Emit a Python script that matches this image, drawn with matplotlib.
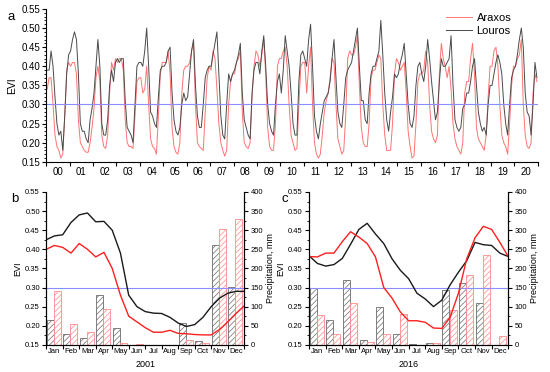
import numpy as np
import matplotlib
matplotlib.use("Agg")
import matplotlib.pyplot as plt
from matplotlib.ticker import MultipleLocator, FixedLocator, NullFormatter, FormatStrFormatter

plt.rcParams['font.family'] = ['Liberation Sans', 'DejaVu Sans']
plt.rcParams['hatch.linewidth'] = 0.5

# ---- panel a: monthly EVI 2000-2020 ----
years = list(range(2000, 2021))
year_labels = ['%02d' % (y % 100) for y in years]

louros_evi = [
    0.39, 0.39, 0.44, 0.40, 0.32, 0.25, 0.22, 0.23, 0.18, 0.27, 0.38, 0.43,  # 2000
    0.44, 0.47, 0.49, 0.47, 0.38, 0.25, 0.23, 0.23, 0.21, 0.20, 0.26, 0.29,  # 2001
    0.33, 0.40, 0.47, 0.40, 0.25, 0.22, 0.22, 0.26, 0.35, 0.39, 0.36, 0.41,  # 2002
    0.42, 0.41, 0.42, 0.42, 0.31, 0.24, 0.23, 0.22, 0.20, 0.30, 0.40, 0.41,  # 2003
    0.41, 0.40, 0.44, 0.50, 0.40, 0.28, 0.27, 0.25, 0.24, 0.32, 0.39, 0.40,  # 2004
    0.40, 0.41, 0.44, 0.45, 0.33, 0.26, 0.23, 0.22, 0.24, 0.30, 0.33, 0.31,  # 2005
    0.32, 0.38, 0.44, 0.47, 0.35, 0.27, 0.24, 0.24, 0.30, 0.37, 0.39, 0.40,  # 2006
    0.40, 0.43, 0.46, 0.49, 0.38, 0.27, 0.22, 0.21, 0.30, 0.38, 0.36, 0.38,  # 2007
    0.39, 0.41, 0.43, 0.46, 0.33, 0.26, 0.24, 0.22, 0.21, 0.33, 0.39, 0.41,  # 2008
    0.41, 0.38, 0.44, 0.48, 0.40, 0.30, 0.25, 0.23, 0.22, 0.30, 0.36, 0.38,  # 2009
    0.33, 0.39, 0.48, 0.44, 0.40, 0.33, 0.25, 0.22, 0.22, 0.36, 0.43, 0.44,  # 2010
    0.42, 0.40, 0.47, 0.51, 0.40, 0.27, 0.23, 0.21, 0.25, 0.28, 0.31, 0.32,  # 2011
    0.33, 0.36, 0.42, 0.47, 0.37, 0.28, 0.25, 0.24, 0.30, 0.37, 0.39, 0.40,  # 2012
    0.41, 0.44, 0.47, 0.50, 0.40, 0.31, 0.31, 0.26, 0.25, 0.33, 0.38, 0.40,  # 2013
    0.40, 0.42, 0.44, 0.52, 0.43, 0.33, 0.26, 0.23, 0.28, 0.32, 0.38, 0.37,  # 2014
    0.38, 0.41, 0.43, 0.46, 0.38, 0.30, 0.25, 0.24, 0.27, 0.35, 0.40, 0.41,  # 2015
    0.38, 0.36, 0.40, 0.47, 0.42, 0.36, 0.31, 0.26, 0.28, 0.36, 0.42, 0.40,  # 2016
    0.40, 0.41, 0.42, 0.48, 0.35, 0.26, 0.24, 0.23, 0.24, 0.29, 0.30, 0.33,  # 2017
    0.33, 0.36, 0.40, 0.42, 0.35, 0.28, 0.25, 0.23, 0.24, 0.22, 0.30, 0.35,  # 2018
    0.35, 0.38, 0.41, 0.43, 0.41, 0.38, 0.30, 0.25, 0.22, 0.30, 0.37, 0.39,  # 2019
    0.40, 0.43, 0.47, 0.50, 0.45, 0.33, 0.28, 0.27, 0.22, 0.30, 0.41, 0.37,  # 2020
]

araxos_evi = [
    0.34, 0.37, 0.37, 0.30, 0.22, 0.19, 0.18, 0.16, 0.17, 0.27, 0.39, 0.41,   # 2000
    0.40, 0.41, 0.41, 0.38, 0.26, 0.20, 0.19, 0.18, 0.175, 0.175, 0.20, 0.24, # 2001
    0.29, 0.37, 0.40, 0.36, 0.22, 0.19, 0.185, 0.22, 0.33, 0.41, 0.39, 0.42,  # 2002
    0.41, 0.42, 0.42, 0.39, 0.26, 0.20, 0.19, 0.19, 0.185, 0.27, 0.36, 0.37,  # 2003
    0.37, 0.33, 0.34, 0.40, 0.30, 0.21, 0.19, 0.185, 0.17, 0.27, 0.38, 0.41,  # 2004
    0.41, 0.41, 0.44, 0.38, 0.24, 0.19, 0.175, 0.17, 0.20, 0.33, 0.39, 0.40,  # 2005
    0.40, 0.41, 0.44, 0.46, 0.30, 0.20, 0.19, 0.185, 0.18, 0.28, 0.37, 0.40,  # 2006
    0.39, 0.44, 0.42, 0.34, 0.25, 0.20, 0.18, 0.165, 0.18, 0.30, 0.36, 0.38,  # 2007
    0.38, 0.41, 0.42, 0.44, 0.28, 0.20, 0.19, 0.185, 0.20, 0.32, 0.40, 0.44,  # 2008
    0.43, 0.40, 0.43, 0.47, 0.38, 0.24, 0.19, 0.18, 0.18, 0.25, 0.40, 0.42,   # 2009
    0.42, 0.44, 0.45, 0.40, 0.30, 0.22, 0.20, 0.18, 0.185, 0.30, 0.40, 0.41,  # 2010
    0.41, 0.33, 0.40, 0.45, 0.30, 0.20, 0.17, 0.16, 0.17, 0.22, 0.28, 0.31,   # 2011
    0.33, 0.37, 0.42, 0.41, 0.30, 0.21, 0.19, 0.17, 0.18, 0.27, 0.42, 0.44,   # 2012
    0.43, 0.43, 0.45, 0.48, 0.35, 0.24, 0.20, 0.19, 0.19, 0.25, 0.37, 0.39,   # 2013
    0.39, 0.41, 0.43, 0.42, 0.30, 0.22, 0.18, 0.18, 0.18, 0.25, 0.38, 0.42,   # 2014
    0.41, 0.39, 0.40, 0.41, 0.33, 0.23, 0.19, 0.16, 0.165, 0.25, 0.36, 0.38,  # 2015
    0.38, 0.39, 0.44, 0.41, 0.30, 0.23, 0.21, 0.20, 0.22, 0.38, 0.46, 0.42,   # 2016
    0.40, 0.37, 0.40, 0.34, 0.25, 0.21, 0.19, 0.18, 0.17, 0.20, 0.33, 0.36,   # 2017
    0.36, 0.42, 0.46, 0.38, 0.24, 0.21, 0.20, 0.19, 0.18, 0.22, 0.32, 0.40,   # 2018
    0.40, 0.44, 0.45, 0.40, 0.30, 0.22, 0.20, 0.19, 0.17, 0.25, 0.35, 0.40,   # 2019
    0.40, 0.42, 0.43, 0.47, 0.30, 0.22, 0.19, 0.185, 0.20, 0.33, 0.38, 0.36,  # 2020
]

# ---- panels b, c: half-monthly EVI and monthly precipitation ----
months = ['Jan', 'Feb', 'Mar', 'Apr', 'May', 'Jun',
          'Jul', 'Aug', 'Sep', 'Oct', 'Nov', 'Dec']
half_month = np.arange(0, 12.01, 0.5)

louros_2001 = [0.425, 0.435, 0.438, 0.47, 0.49, 0.495, 0.472, 0.473, 0.45, 0.39,
               0.28, 0.25, 0.237, 0.233, 0.232, 0.222, 0.207, 0.198, 0.203,
               0.222, 0.25, 0.272, 0.285, 0.29, 0.29]
araxos_2001 = [0.40, 0.41, 0.405, 0.39, 0.415, 0.40, 0.38, 0.392, 0.35, 0.28,
               0.225, 0.21, 0.195, 0.183, 0.183, 0.188, 0.18, 0.179, 0.177,
               0.176, 0.176, 0.19, 0.21, 0.232, 0.252]
louros_2016 = [0.383, 0.363, 0.356, 0.36, 0.376, 0.413, 0.452, 0.468, 0.44, 0.415,
               0.375, 0.345, 0.323, 0.285, 0.27, 0.25, 0.267, 0.307, 0.34,
               0.37, 0.418, 0.412, 0.41, 0.39, 0.381]
araxos_2016 = [0.381, 0.38, 0.39, 0.39, 0.42, 0.446, 0.432, 0.415, 0.38, 0.30,
               0.272, 0.236, 0.213, 0.213, 0.209, 0.194, 0.193, 0.222, 0.285,
               0.375, 0.43, 0.46, 0.452, 0.418, 0.381]

louros_rain_2001 = [65, 29, 17, 131, 44, 0, 0, 0, 58, 11, 260, 152]
araxos_rain_2001 = [140, 55, 33, 95, 5, 2, 0, 0, 13, 5, 304, 329]
louros_rain_2016 = [148, 64, 170, 13, 100, 28, 2, 4, 144, 162, 109, 0]
araxos_rain_2016 = [79, 28, 109, 7, 28, 81, 0, 4, 92, 182, 235, 22]

RED_A = '#ff7373'
GREY_A = '#4a4a4a'
RED_B = '#ff1f1f'
BLACK_B = '#1a1a1a'
BLUE = '#8c8cff'

fig = plt.figure(figsize=(5.5, 3.72), dpi=100)

# ---------- panel a ----------
ax = fig.add_axes([0.084, 0.565, 0.894, 0.411])
t = np.array([y + (m + 0.5) / 12 for y in years for m in range(12)])
ax.plot(t, araxos_evi, color=RED_A, lw=0.7, label='Araxos')
ax.plot(t, louros_evi, color=GREY_A, lw=0.7, label='Louros')
ax.axhline(0.30, color=BLUE, lw=0.8)
ax.set_xlim(2000, 2021)
ax.set_ylim(0.15, 0.55)
ax.xaxis.set_major_locator(FixedLocator(range(2000, 2022)))
ax.xaxis.set_major_formatter(NullFormatter())
ax.xaxis.set_minor_locator(FixedLocator([y + 0.5 for y in years]))
ax.set_xticklabels(year_labels, minor=True)
ax.tick_params(axis='x', which='minor', length=0, labelsize=7, pad=4)
ax.tick_params(axis='x', which='major', length=3, direction='out')
ax.yaxis.set_major_locator(MultipleLocator(0.05))
ax.yaxis.set_minor_locator(MultipleLocator(0.01))
ax.yaxis.set_major_formatter(FormatStrFormatter('%.2f'))
ax.tick_params(axis='y', which='major', length=3, labelsize=7, pad=1.5)
ax.tick_params(axis='y', which='minor', length=1.5)
ax.spines['top'].set_visible(False)
ax.spines['right'].set_visible(False)
ax.set_ylabel('EVI', fontsize=7.5, labelpad=3)
ax.legend(loc='upper right', frameon=False, fontsize=8, handlelength=2.3,
          handletextpad=0.45, borderaxespad=0.0, labelspacing=0.2,
          bbox_to_anchor=(0.955, 1.0))
fig.text(0.014, 0.945, 'a', fontsize=9.5)


def season_panel(rect, lou_evi, ara_evi, lou_rain, ara_rain, year_text, letter, lx):
    ax = fig.add_axes(rect)
    axr = ax.twinx()
    ax.set_zorder(axr.get_zorder() + 1)
    ax.patch.set_visible(False)
    idx = np.arange(12)
    axr.bar(idx + 0.25, lou_rain, width=0.42, facecolor='white',
            edgecolor='#6a6a6a', hatch='//////', lw=0.6)
    axr.bar(idx + 0.68, ara_rain, width=0.42, facecolor='white',
            edgecolor='#ff8a8a', hatch='//////', lw=0.6)
    ax.axhline(0.30, color=BLUE, lw=0.8)
    ax.plot(half_month, lou_evi, color=BLACK_B, lw=1.0)
    ax.plot(half_month, ara_evi, color=RED_B, lw=1.0)
    ax.set_xlim(0, 12)
    ax.set_ylim(0.15, 0.55)
    axr.set_ylim(0, 400)
    ax.xaxis.set_major_locator(FixedLocator(range(13)))
    ax.xaxis.set_major_formatter(NullFormatter())
    ax.xaxis.set_minor_locator(FixedLocator(idx + 0.5))
    ax.set_xticklabels(months, minor=True)
    ax.tick_params(axis='x', which='minor', length=0, labelsize=5.5, pad=2)
    ax.tick_params(axis='x', which='major', length=3, direction='out')
    ax.yaxis.set_major_locator(MultipleLocator(0.05))
    ax.yaxis.set_minor_locator(MultipleLocator(0.025))
    ax.yaxis.set_major_formatter(FormatStrFormatter('%.2f'))
    ax.tick_params(axis='y', which='major', length=3, labelsize=5.5, pad=1.5)
    ax.tick_params(axis='y', which='minor', length=1.5)
    axr.yaxis.set_major_locator(MultipleLocator(50))
    axr.yaxis.set_minor_locator(MultipleLocator(25))
    axr.tick_params(axis='y', which='major', length=3, labelsize=5.5, pad=1.5)
    axr.tick_params(axis='y', which='minor', length=1.5)
    for a in (ax, axr):
        a.spines['top'].set_visible(False)
    ax.set_ylabel('EVI', fontsize=6.5, labelpad=2)
    axr.set_ylabel('Precipitation, mm', fontsize=6.5, labelpad=2)
    ax.set_xlabel(year_text, fontsize=6.5, labelpad=4)
    fig.text(lx, 0.457, letter, fontsize=9.5)


season_panel([0.084, 0.073, 0.360, 0.411], louros_2001, araxos_2001,
             louros_rain_2001, araxos_rain_2001, '2001', 'b', 0.021)
season_panel([0.562, 0.073, 0.362, 0.411], louros_2016, araxos_2016,
             louros_rain_2016, araxos_rain_2016, '2016', 'c', 0.512)

fig.savefig('out.png', dpi=100)
